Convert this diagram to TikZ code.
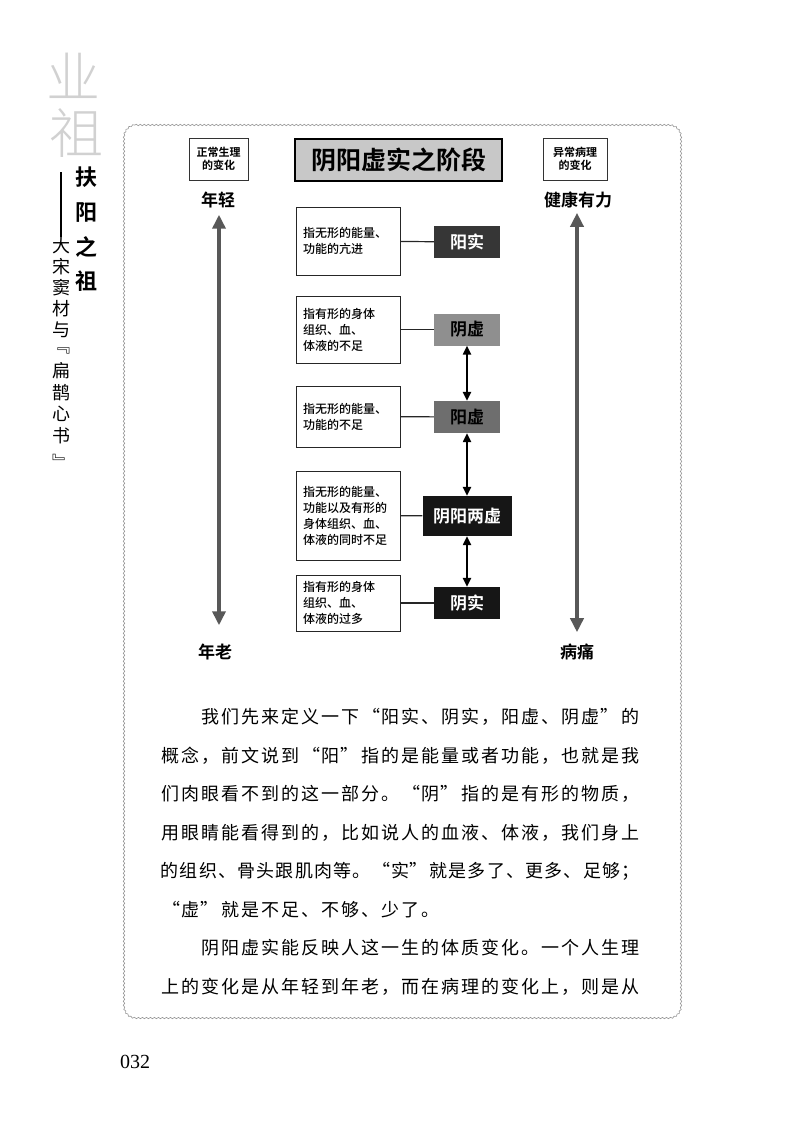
\documentclass[tikz,border=0pt]{standalone}
\usepackage{fontspec}
\usepackage{tikz}
\usetikzlibrary{arrows.meta,decorations.pathmorphing}
\setmainfont{Liberation Serif}
\newfontfamily\cjk{Noto Sans CJK SC}
\newfontfamily\cjkmed{Noto Sans CJK SC Medium}
\newfontfamily\cjkbold{Noto Sans CJK SC Bold}
\newfontfamily\cjklight{Noto Sans CJK SC Light}
\definecolor{frame}{RGB}{150,150,150}
\definecolor{shaft}{RGB}{88,88,88}
\definecolor{titlefill}{RGB}{200,200,200}
\definecolor{yangshi}{RGB}{54,54,54}
\definecolor{yinxu}{RGB}{143,143,143}
\definecolor{yangxu}{RGB}{110,110,110}
\definecolor{inkblack}{RGB}{22,22,22}
\newlength\cellw
\newcommand\gridtext[2]{\setlength\cellw{#1}\gridchar#2\relax}
\def\gridchar#1{\ifx#1\relax\else\gridcell{#1}\expandafter\gridchar\fi}
\def\gridcell#1{\ifx#1“\makebox[\cellw][r]{#1}\else
  \ifx#1”\makebox[\cellw][l]{#1}\else\makebox[\cellw]{#1}\fi\fi}

\begin{document}
\begin{tikzpicture}[x=1pt,y=-1pt,
  body/.style={anchor=west,inner sep=0pt,font={\cjk\fontsize{18}{18}\selectfont}},
  smallbox/.style={draw=black!80,line width=1pt,align=center,inner sep=1pt,
    minimum height=42,font={\cjkbold\fontsize{11}{13}\selectfont}},
  bigword/.style={inner sep=2pt,font={\cjkbold\fontsize{17}{17}\selectfont}},
  descbox/.style={draw=black!85,line width=1pt,text width=90pt,inner xsep=7pt,
    align=left,font={\cjkmed\fontsize{12}{16}\selectfont}},
  labelbox/.style={minimum width=66,minimum height=32,inner sep=0pt,
    font={\cjkbold\fontsize{17}{17}\selectfont}},
  link/.style={black!85,line width=1.2pt},
  bigarrow/.style={shaft,line width=4pt,
    {Triangle[width=13pt,length=14pt]}-{Triangle[width=13pt,length=14pt]}},
  steparrow/.style={black,line width=2.2pt,
    {Triangle[width=8pt,length=9pt]}-{Triangle[width=8pt,length=9pt]}}]
\useasboundingbox (0,0) rectangle (800,1144);

% margin title
\node[font={\cjklight\fontsize{54}{54}\selectfont},text=black!18] (seal1) at (73,76) {业};
\node[font={\cjklight\fontsize{54}{54}\selectfont},text=black!18] (seal2) at (76,133) {祖};
\foreach \ch/\yy in {扶/177,阳/212,之/247,祖/281}
  \node[font={\cjkbold\fontsize{22}{22}\selectfont}] (main\yy) at (86,\yy) {\ch};
\draw[line width=1.3pt] (61,172) -- (61,237);
\foreach \ch/\yy in {大/246,宋/267,窦/288,材/309,与/330,﹃/351,扁/371,鹊/393,心/414,书/436,﹄/462}
  \node[font={\cjk\fontsize{18}{18}\selectfont}] (sub\yy) at (61,\yy) {\ch};

% frame
\draw[frame,line width=0.6pt,decorate,decoration={snake,amplitude=0.7pt,segment length=4pt}]
  (135,125) -- (668,125) arc[start angle=90,end angle=0,radius=12pt]
  -- (680,1006) arc[start angle=0,end angle=-90,radius=12pt]
  -- (135,1018) arc[start angle=270,end angle=180,radius=12pt]
  -- (123,137) arc[start angle=180,end angle=90,radius=12pt] -- cycle;

% diagram head
\node[smallbox,minimum width=59] (normal) at (218.5,159) {正常生理\\的变化};
\node[smallbox,minimum width=64] (abnormal) at (575,159) {异常病理\\的变化};
\node[draw=black,line width=1.6pt,fill=titlefill,minimum width=207,minimum height=42,
  inner sep=0pt,font={\cjkbold\fontsize{25}{25}\selectfont}] (title) at (398.5,160) {阴阳虚实之阶段};

\node[bigword] (young) at (218,200) {年轻};
\node[bigword] (old) at (215,652) {年老};
\node[bigword] (healthy) at (578,200) {健康有力};
\node[bigword] (ill) at (577,652) {病痛};
\draw[bigarrow,shorten <=4.5pt,shorten >=16.5pt] ([xshift=1pt]young.south) -- ([xshift=1pt]young.south |- old.north);
\draw[bigarrow,shorten <=2.5pt,shorten >=9.5pt] ([xshift=-1pt]healthy.south) -- ([xshift=-1pt]healthy.south |- ill.north);

% stages
\node[descbox,minimum height=68] (d1) at (348,241) {指无形的能量、\\功能的亢进};
\node[descbox,minimum height=67] (d2) at (348,329.5) {指有形的身体\\组织、血、\\体液的不足};
\node[descbox,minimum height=61] (d3) at (348,416.5) {指无形的能量、\\功能的不足};
\node[descbox,minimum height=89] (d4) at (348,515.5) {指无形的能量、\\功能以及有形的\\身体组织、血、\\体液的同时不足};
\node[descbox,minimum height=56] (d5) at (348,603) {指有形的身体\\组织、血、\\体液的过多};

\node[labelbox,fill=yangshi,text=white] (y1) at (467,242) {阳实};
\node[labelbox,fill=yinxu,text=black] (y2) at (467,329.5) {阴虚};
\node[labelbox,fill=yangxu,text=black] (y3) at (467,417) {阳虚};
\node[labelbox,fill=inkblack,text=white,minimum width=89,minimum height=40] (y4) at (467,516) {阴阳两虚};
\node[labelbox,fill=inkblack,text=white] (y5) at (467,603) {阴实};

\foreach \i in {1,...,5}
  \draw[link] (d\i) -- (y\i);
\draw[steparrow] (y2) -- (y3);
\draw[steparrow] (y3) -- (y4);
\draw[steparrow] (y4) -- (y5);

% body text
\node[body] (l1) at (200,717) {\gridtext{20pt}{我们先来定义一下“阳实、阴实，阳虚、阴虚”的}};
\node[body] (l2) at (160,755.5) {\gridtext{20pt}{概念，前文说到“阳”指的是能量或者功能，也就是我}};
\node[body] (l3) at (160,794) {\gridtext{20pt}{们肉眼看不到的这一部分。“阴”指的是有形的物质，}};
\node[body] (l4) at (160,832.5) {\gridtext{20pt}{用眼睛能看得到的，比如说人的血液、体液，我们身上}};
\node[body] (l5) at (160,871) {\gridtext{19.2pt}{的组织、骨头跟肌肉等。“实”就是多了、更多、足够；}};
\node[body] (l6) at (160,909.5) {\gridtext{20pt}{“虚”就是不足、不够、少了。}};
\node[body] (l7) at (200,948) {\gridtext{20pt}{阴阳虚实能反映人这一生的体质变化。一个人生理}};
\node[body] (l8) at (160,986.5) {\gridtext{20pt}{上的变化是从年轻到年老，而在病理的变化上，则是从}};

\node[font={\fontsize{20}{20}\selectfont}] (pageno) at (135,1062) {032};
\end{tikzpicture}
\end{document}
